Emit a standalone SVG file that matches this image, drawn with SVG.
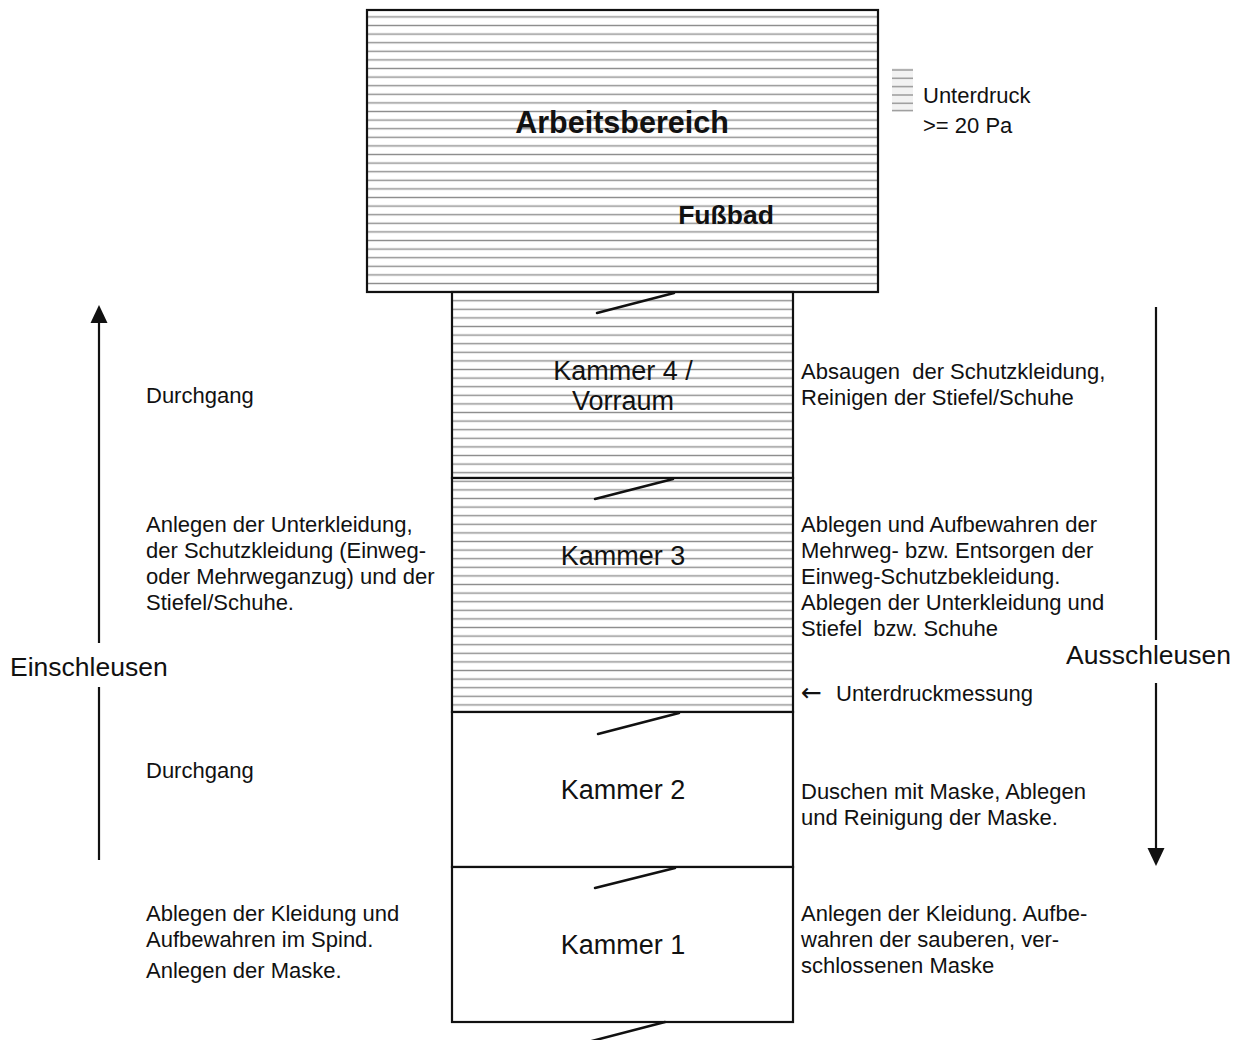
<svg xmlns="http://www.w3.org/2000/svg" width="1239" height="1040" viewBox="0 0 1239 1040">
<style>
  text { font-family: "Liberation Sans", Arial, sans-serif; fill: #111; }
  .t { font-size: 22px; }
  .big { font-size: 26.5px; }
  .k { font-size: 27px; text-anchor: middle; }
  .b { font-weight: bold; font-size: 30.5px; }
  .wall { stroke: #111; stroke-width: 2.2; }
  .hatched { fill: url(#hatch); }
  .plain { fill: #fff; }
  .door { stroke: #111; stroke-width: 2.5; stroke-linecap: round; fill: none; }
  .arr { stroke: #111; stroke-width: 2.2; fill: none; }
</style>
<defs>
  <pattern id="hatch" patternUnits="userSpaceOnUse" width="20" height="8.6" y="4">
    <rect width="20" height="8.6" fill="#fff"/>
    <line x1="0" y1="4.3" x2="20" y2="4.3" stroke="#8e8e8e" stroke-width="1.4"/>
  </pattern>
</defs>
<rect width="1239" height="1040" fill="#fff"/>

<g id="arbeitsbereich">
  <rect x="367" y="10" width="511" height="282" class="wall hatched"/>
  <text x="622" y="133" class="b" text-anchor="middle">Arbeitsbereich</text>
  <text x="726" y="224" class="b" text-anchor="middle" style="font-size:26.5px">Fußbad</text>
</g>

<g id="kammer4">
  <rect x="452" y="292" width="341" height="186" class="wall hatched"/>
  <text x="623" y="380" class="k">Kammer 4 /</text>
  <text x="623" y="410" class="k">Vorraum</text>
</g>

<g id="kammer3">
  <rect x="452" y="478" width="341" height="234" class="wall hatched"/>
  <text x="623" y="565" class="k">Kammer 3</text>
</g>

<g id="kammer2">
  <rect x="452" y="712" width="341" height="155" class="wall plain"/>
  <text x="623" y="799" class="k">Kammer 2</text>
</g>

<g id="kammer1">
  <rect x="452" y="867" width="341" height="155" class="wall plain"/>
  <text x="623" y="954" class="k">Kammer 1</text>
</g>

<g id="legende">
  <rect x="892" y="68" width="21" height="43" fill="#f2f2f2"/>
  <g stroke="#a0a0a0" stroke-width="1.6">
    <line x1="892" y1="70" x2="913" y2="70"/>
    <line x1="892" y1="78.3" x2="913" y2="78.3"/>
    <line x1="892" y1="86.6" x2="913" y2="86.6"/>
    <line x1="892" y1="95" x2="913" y2="95"/>
    <line x1="892" y1="103.3" x2="913" y2="103.3"/>
    <line x1="892" y1="110.6" x2="913" y2="110.6"/>
  </g>
  <text x="923" y="103" class="t">Unterdruck</text>
  <text x="923" y="133" class="t">&gt;= 20 Pa</text>
</g>

<g id="beschreibung-links">
  <text x="146" y="403" class="t">Durchgang</text>
  <text x="146" y="532" class="t">Anlegen der Unterkleidung,</text>
  <text x="146" y="558" class="t">der Schutzkleidung (Einweg-</text>
  <text x="146" y="584" class="t">oder Mehrweganzug) und der</text>
  <text x="146" y="610" class="t">Stiefel/Schuhe.</text>
  <text x="146" y="778" class="t">Durchgang</text>
  <text x="146" y="921" class="t">Ablegen der Kleidung und</text>
  <text x="146" y="947" class="t">Aufbewahren im Spind.</text>
  <text x="146" y="978" class="t">Anlegen der Maske.</text>
  <text x="10" y="676" class="big">Einschleusen</text>
</g>

<g id="beschreibung-rechts">
  <text x="801" y="379" class="t">Absaugen <tspan dx="6">der Schutzkleidung,</tspan></text>
  <text x="801" y="405" class="t">Reinigen der Stiefel/Schuhe</text>
  <text x="801" y="532" class="t">Ablegen und Aufbewahren der</text>
  <text x="801" y="558" class="t">Mehrweg- bzw. Entsorgen der</text>
  <text x="801" y="584" class="t">Einweg-Schutzbekleidung.</text>
  <text x="801" y="610" class="t">Ablegen der Unterkleidung und</text>
  <text x="801" y="636" class="t">Stiefel <tspan dx="5">bzw. Schuhe</tspan></text>
  <text x="801" y="701" class="t"><tspan style="font-family:'DejaVu Sans',sans-serif;font-size:25px">←</tspan> <tspan x="836">Unterdruckmessung</tspan></text>
  <text x="801" y="799" class="t">Duschen mit Maske, Ablegen</text>
  <text x="801" y="825" class="t">und Reinigung der Maske.</text>
  <text x="801" y="921" class="t">Anlegen der Kleidung. Aufbe-</text>
  <text x="801" y="947" class="t">wahren der sauberen, ver-</text>
  <text x="801" y="973" class="t">schlossenen Maske</text>
  <text x="1066" y="664" class="big">Ausschleusen</text>
</g>

<g id="connectors">
  <line class="door" x1="597" y1="313" x2="674" y2="293"/>
  <line class="door" x1="595" y1="499" x2="673" y2="479"/>
  <line class="door" x1="598" y1="734" x2="679" y2="713"/>
  <line class="door" x1="595" y1="888" x2="675" y2="868"/>
  <line class="door" x1="588" y1="1042" x2="665" y2="1022"/>

  <line class="arr" x1="99" y1="860" x2="99" y2="687"/>
  <line class="arr" x1="99" y1="643" x2="99" y2="320"/>
  <polygon points="99,305 90.5,323 107.5,323" fill="#111"/>

  <line class="arr" x1="1156" y1="307" x2="1156" y2="640"/>
  <line class="arr" x1="1156" y1="683" x2="1156" y2="850"/>
  <polygon points="1156,866 1147.5,848 1164.5,848" fill="#111"/>
</g>
</svg>
